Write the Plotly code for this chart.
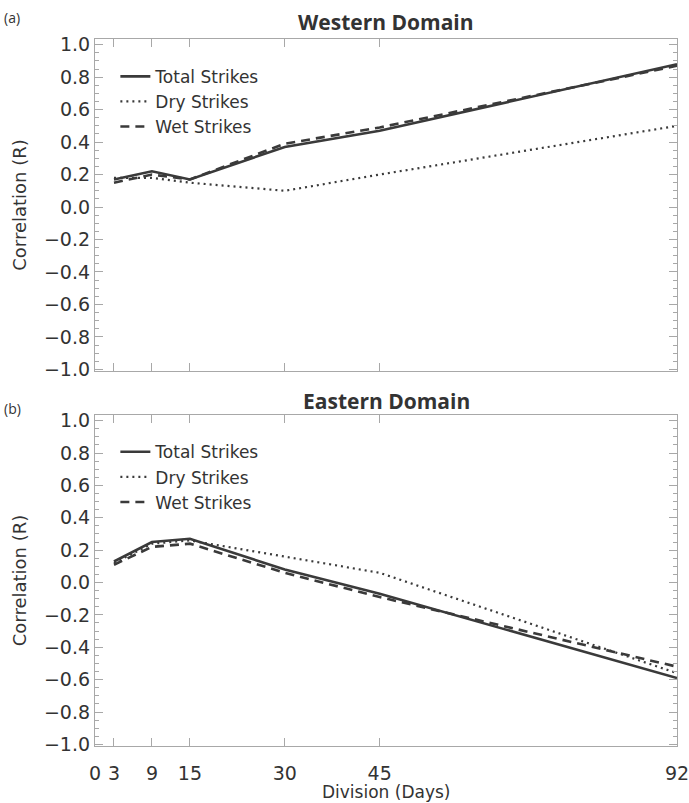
import plotly.graph_objects as go

days = [3, 9, 15, 30, 45, 92]
tick_days = [0, 3, 9, 15, 30, 45, 92]

west_total = [0.17, 0.22, 0.17, 0.37, 0.47, 0.88]
west_dry = [0.18, 0.18, 0.15, 0.10, 0.20, 0.50]
west_wet = [0.15, 0.20, 0.17, 0.39, 0.49, 0.87]

east_total = [0.13, 0.25, 0.27, 0.08, -0.07, -0.59]
east_dry = [0.12, 0.24, 0.26, 0.16, 0.06, -0.56]
east_wet = [0.11, 0.22, 0.24, 0.06, -0.09, -0.52]

names = ["Total Strikes", "Dry Strikes", "Wet Strikes"]
styles = [dict(dash="solid", width=2.6), dict(dash="2px,4px", width=2.2), dict(dash="9px,6px", width=2.6)]
LC = "#3a3a3a"
FONT = "DejaVu Sans"
AX = "#a8a8a8"

fig = go.Figure()
for i, (vals, st) in enumerate(zip([west_total, west_dry, west_wet], styles)):
    fig.add_trace(go.Scatter(x=days, y=vals, mode="lines", name=names[i],
                             line=dict(color=LC, **st), xaxis="x", yaxis="y", legend="legend"))
for i, (vals, st) in enumerate(zip([east_total, east_dry, east_wet], styles)):
    fig.add_trace(go.Scatter(x=days, y=vals, mode="lines", name=names[i],
                             line=dict(color=LC, **st), xaxis="x2", yaxis="y2", legend="legend2"))

top_dom = [0.5304, 1.0]
bot_dom = [0.0, 0.4682]

def xax(show_labels, anchor):
    return dict(domain=[0, 1], range=[0, 92], tickvals=tick_days, ticktext=[str(d) for d in tick_days],
                showticklabels=show_labels, ticks="inside", ticklen=8, tickcolor=AX, mirror="ticks",
                showline=True, linecolor=AX, linewidth=1.2, showgrid=False, zeroline=False,
                anchor=anchor, tickfont=dict(family=FONT, size=19, color="#333"),
                ticklabelstandoff=10, automargin=False, ticklabeloverflow="allow")

def yax(dom, anchor):
    return dict(domain=dom, range=[-1.01, 1.035], tickvals=[-1.0 + 0.2 * k for k in range(11)],
                tickformat=".1f", ticks="inside", ticklen=8, tickcolor=AX, mirror="ticks",
                minor=dict(ticks="inside", dtick=0.05, tick0=0, ticklen=4, tickcolor=AX, showgrid=False),
                showline=True, linecolor=AX, linewidth=1.2, showgrid=False, zeroline=False,
                anchor=anchor, tickfont=dict(family=FONT, size=19, color="#333"), automargin=False,
                title=dict(text="Correlation (R)", font=dict(family=FONT, size=18, color="#333"), standoff=12))

leg_common = dict(bgcolor="rgba(0,0,0,0)", font=dict(family=FONT, size=17, color="#333"),
                  itemwidth=30, tracegroupgap=0, xanchor="left", yanchor="top", xref="paper", yref="paper")

fig.update_layout(
    width=689, height=803,
    margin=dict(l=95, r=12, t=39, b=57),
    paper_bgcolor="white", plot_bgcolor="white",
    xaxis=xax(False, "y"),
    yaxis=yax(top_dom, "x"),
    xaxis2=xax(True, "y2"),
    yaxis2=yax(bot_dom, "x2"),
    legend=dict(x=0.035, y=0.972, **leg_common),
    legend2=dict(x=0.035, y=0.441, **leg_common),
    showlegend=True,
)

def py2paper(py):
    return 1 - (py - 39) / 707

ann = [
    dict(text="<b>Western Domain</b>", y=22, font=dict(family="Open Sans", size=21, color="#333")),
    dict(text="<b>Eastern Domain</b>", y=401, font=dict(family="Open Sans", size=21, color="#333")),
    dict(text="Division (Days)", y=792, font=dict(family=FONT, size=17, color="#333")),
]
for a in ann:
    fig.add_annotation(text=a["text"], x=0.5, xref="paper", y=py2paper(a["y"]), yref="paper",
                       showarrow=False, font=a["font"], xanchor="center", yanchor="middle")
for txt, py in [("(a)", 17), ("(b)", 408)]:
    fig.add_annotation(text=txt, x=(12 - 95) / 582, xref="paper", y=py2paper(py), yref="paper",
                       showarrow=False, font=dict(family="Open Sans", size=14, color="#333"),
                       xanchor="center", yanchor="middle")

fig.write_html("out.html")
